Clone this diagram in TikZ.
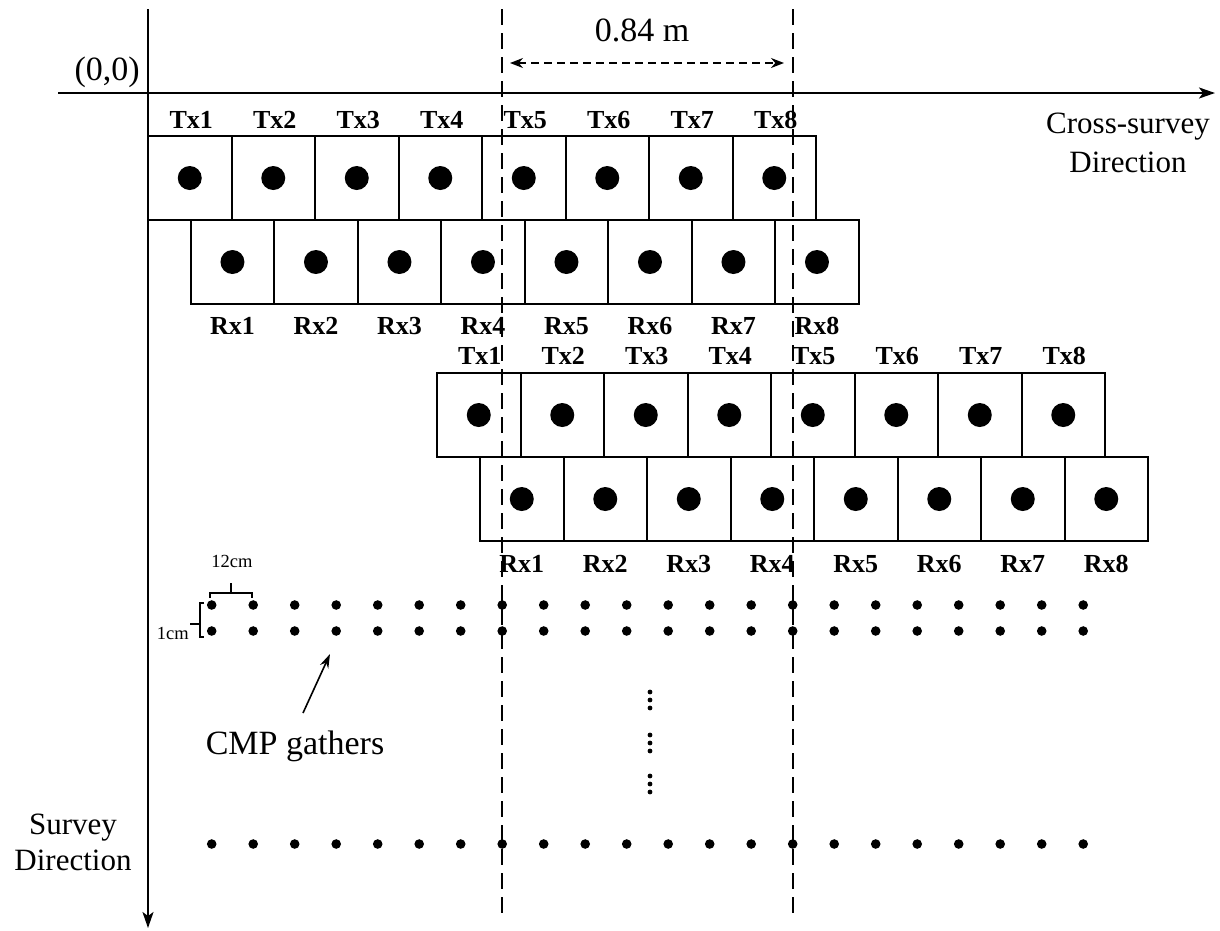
\documentclass[tikz,border=0pt]{standalone}
\usepackage{fontspec}
\setmainfont{Liberation Serif}
\usetikzlibrary{arrows.meta}
\begin{document}
\begin{tikzpicture}[x=1pt,y=-1pt,
  unit/.style={draw, line width=2pt, minimum width=83.5pt, minimum height=84pt,
               inner sep=0pt, outer sep=0pt},
  lab/.style={font=\fontsize{26}{26}\selectfont\bfseries, anchor=base, inner sep=0pt},
  big/.style={font=\fontsize{34}{40}\selectfont, anchor=base, inner sep=0pt},
  dir/.style={font=\fontsize{31}{39}\selectfont, anchor=base, inner sep=0pt},
  small/.style={font=\fontsize{18.5}{20}\selectfont, inner sep=0pt},
  axis/.style={line width=2pt, -{Stealth[length=16pt,width=11pt,inset=4pt]}},
  guide/.style={line width=2pt, dash pattern=on 16pt off 8pt},
  span/.style={line width=1.6pt, dash pattern=on 8pt off 5pt,
               {Stealth[length=13pt,width=10pt]}-{Stealth[length=13pt,width=10pt]}},
  brace/.style={line width=1.4pt},
]
\useasboundingbox (0,0) rectangle (1220,930);

% axes
\coordinate (xs) at (58,93);
\coordinate (xe) at (1215,93);
\coordinate (ys) at (148,9);
\coordinate (ye) at (148,928);
\draw[axis] (xs) -- (xe);
\draw[axis] (ys) -- (ye);

% first shot: transmitters and receivers
\foreach \i in {1,...,8} {
  \node[unit] (ta\i) at ({148+83.5*(\i-0.5)},178) {};
  \fill (ta\i.center) circle (12pt);
  \node[lab] (tla\i) at ({148+83.5*(\i-0.5)+1.5},128) {Tx\i};
  \node[unit] (ra\i) at ({190.7+83.5*(\i-0.5)},262) {};
  \fill (ra\i.center) circle (12pt);
  \node[lab] (rla\i) at ({190.7+83.5*(\i-0.5)},334) {Rx\i};
}

% second shot
\foreach \i in {1,...,8} {
  \node[unit] (tb\i) at ({437+83.5*(\i-0.5)},415) {};
  \fill (tb\i.center) circle (12pt);
  \node[lab] (tlb\i) at ({437+83.5*(\i-0.5)+1},364) {Tx\i};
  \node[unit] (rb\i) at ({480+83.5*(\i-0.5)},499) {};
  \fill (rb\i.center) circle (12pt);
  \node[lab] (rlb\i) at ({480+83.5*(\i-0.5)},572) {Rx\i};
}

% CMP grid
\foreach \k in {0,...,21} {
  \fill ({211.7+41.5*\k},605) circle (4.8pt);
  \fill ({211.7+41.5*\k},631) circle (4.8pt);
  \fill ({211.7+41.5*\k},844) circle (4.8pt);
}
\foreach \c in {700,743,784}
  \foreach \d in {-8,0,8}
    \fill (650,\c+\d) circle (2.4pt);

% spacing marks
\draw[brace] (210,598) -- (210,593) -- (252,593) -- (252,598);
\draw[brace] (231,593) -- (231,583);
\node[small, anchor=base] (dx) at (232,567) {12cm};
\draw[brace] (204,603) -- (200,603) -- (200,637) -- (204,637);
\draw[brace] (200,624) -- (190,624);
\node[small, anchor=base east] (dy) at (189,639) {1cm};

% window of the array
\coordinate (g1t) at (501.7,9);
\coordinate (g1b) at (501.7,918);
\coordinate (g2t) at (793,9);
\coordinate (g2b) at (793,918);
\draw[guide] (g1t) -- (g1b);
\draw[guide] (g2t) -- (g2b);
\coordinate (sa) at (510,63);
\coordinate (sb) at (784,63);
\draw[span] (sa) -- (sb);
\node[big] (len) at (642,41) {0.84 m};

% labels
\node[big, anchor=base east] (origin) at (140,80) {(0,0)};
\node[dir] (cross1) at (1128,133) {Cross-survey};
\node[dir] (cross2) at (1128,172) {Direction};
\node[dir] (surv1) at (73,834) {Survey};
\node[dir] (surv2) at (73,870) {Direction};
\node[big] (cmp) at (295,754) {CMP gathers};
\coordinate (cmptail) at (303,713);
\coordinate (cmptip) at (330,654);
\draw[line width=1.6pt, -{Stealth[length=14pt,width=9pt]}] (cmptail) -- (cmptip);
\end{tikzpicture}
\end{document}
